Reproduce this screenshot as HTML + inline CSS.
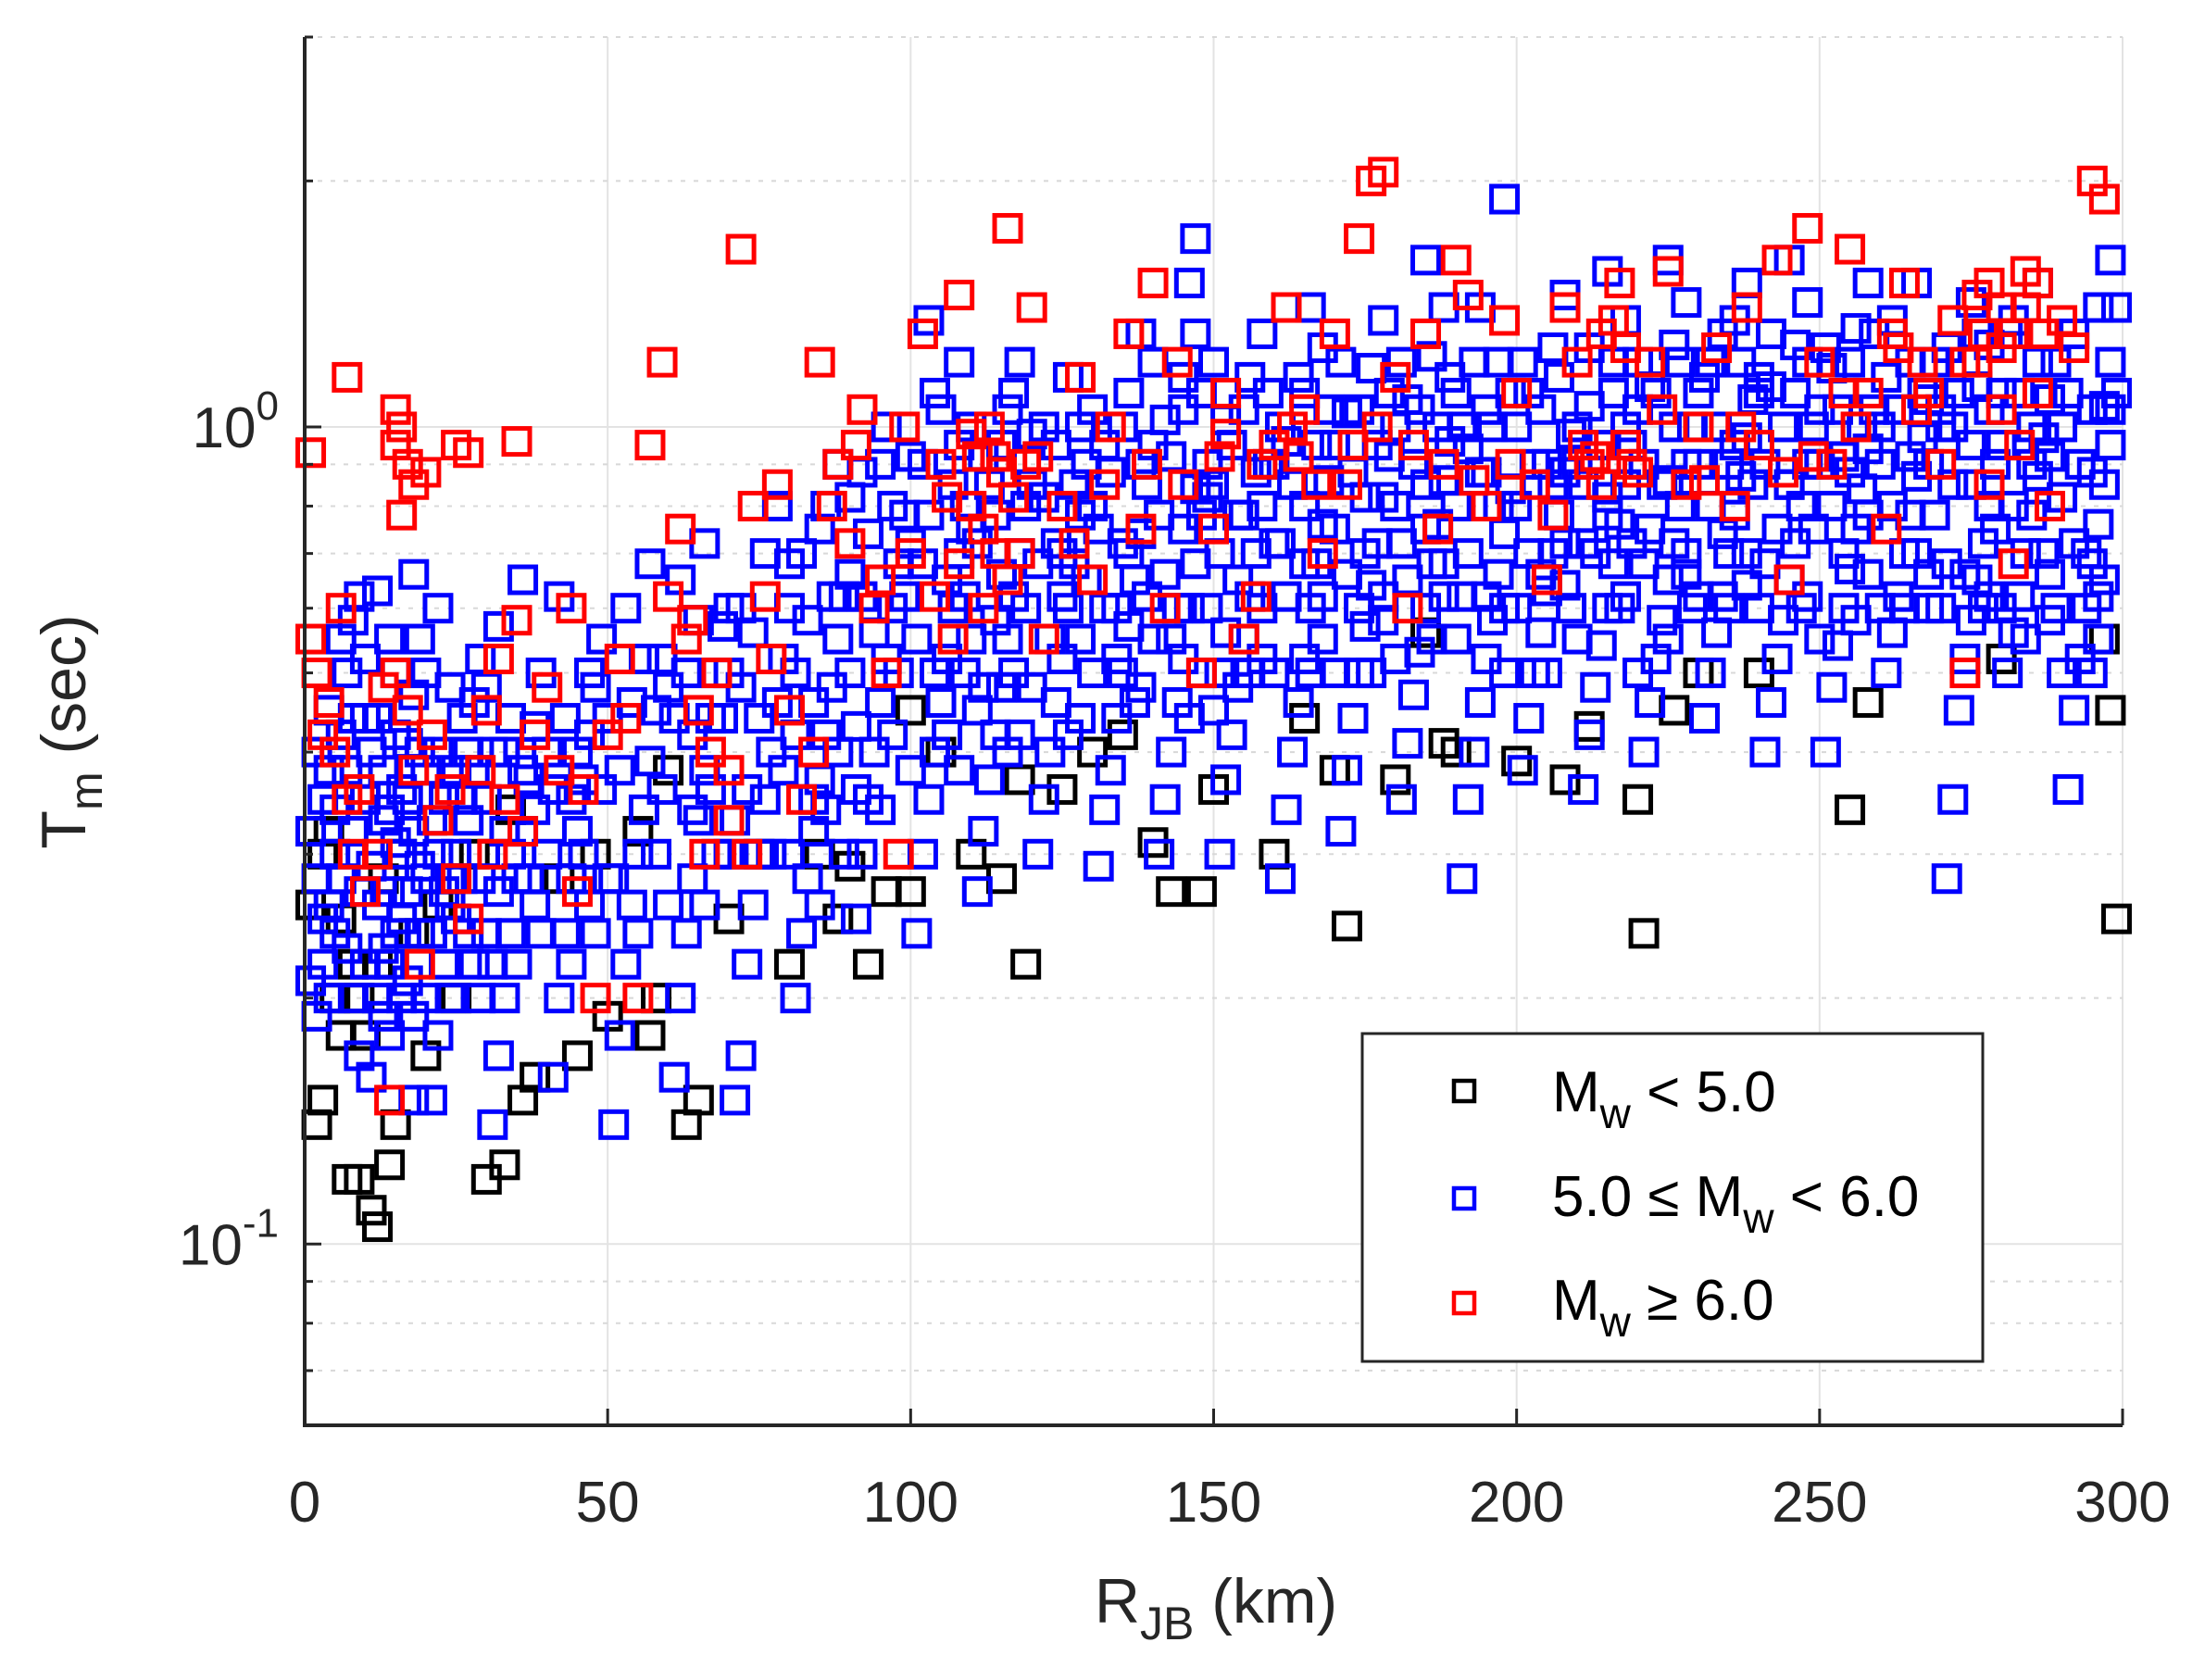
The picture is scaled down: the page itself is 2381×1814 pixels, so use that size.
<!DOCTYPE html>
<html><head><meta charset="utf-8">
<style>
html,body{margin:0;padding:0;background:#fff;}
svg{display:block;font-family:"Liberation Sans",Arial,sans-serif;}
</style></head>
<body>
<svg id="chart" width="2381" height="1814" viewBox="0 0 2381 1814" xmlns="http://www.w3.org/2000/svg">
<rect width="2381" height="1814" fill="#fff"/>
<g id="grid"></g>
<g id="marks"></g>
<g id="axes"></g>
<text x="1313" y="1752" font-size="68" text-anchor="middle" fill="#262626">R<tspan font-size="50" dy="18">JB</tspan><tspan dy="-18"> (km)</tspan></text>
<text transform="translate(92,790) rotate(-90)" font-size="68" text-anchor="middle" fill="#262626">T<tspan font-size="50" dy="18">m</tspan><tspan dy="-18"> (sec)</tspan></text>
<g>
<rect x="1471" y="1116" width="670" height="354" fill="#fff" stroke="#262626" stroke-width="3"/>
<rect x="1570" y="1167" width="22" height="22" fill="none" stroke="#000" stroke-width="4.5"/>
<rect x="1570" y="1283" width="22" height="22" fill="none" stroke="#0000ff" stroke-width="4.5"/>
<rect x="1570" y="1396" width="22" height="22" fill="none" stroke="#ff0000" stroke-width="4.5"/>
<text x="1676" y="1200" font-size="62" fill="#000">M<tspan font-size="46" dy="18">w</tspan><tspan dy="-18"> &lt; 5.0</tspan></text>
<text x="1676" y="1313" font-size="62" fill="#000">5.0 ≤ M<tspan font-size="46" dy="18">w</tspan><tspan dy="-18"> &lt; 6.0</tspan></text>
<text x="1676" y="1425" font-size="62" fill="#000">M<tspan font-size="46" dy="18">w</tspan><tspan dy="-18"> ≥ 6.0</tspan></text>
</g>
</svg>
<script>
const xTicks=[0,50,100,150,200,250,300];
const yMajor=[0.1,1];
const yMinor=[0.07,0.08,0.09,0.2,0.3,0.4,0.5,0.6,0.7,0.8,0.9,2,3];
const blackPts=[[2,0.14],[3,0.15],[5,0.2],[6,0.25],[7,0.12],[9,0.12],[11,0.11],[12,0.105],[14,0.125],[15,0.14],[10,0.18],[8,0.22],[13,0.28],[4,0.32],[16,0.3],[20,0.17],[25,0.2],[30,0.12],[33,0.125],[36,0.15],[38,0.16],[45,0.17],[50,0.19],[57,0.18],[63,0.14],[65,0.15],[70,0.25],[80,0.22],[85,0.3],[90,0.29],[93,0.22],[96,0.27],[100,0.27],[110,0.3],[115,0.28],[119,0.22],[125,0.36],[140,0.31],[143,0.27],[148,0.27],[160,0.3],[170,0.38],[172,0.245],[180,0.37],[190,0.4],[200,0.39],[208,0.37],[220,0.35],[221,0.24],[240,0.5],[255,0.34],[258,0.46],[280,0.52],[297,0.55],[298,0.45],[299,0.25],[230,0.5],[185,0.56],[100,0.45],[130,0.4],[60,0.38],[1,0.26],[3,0.3],[6,0.18],[9,0.2],[12,0.22],[18,0.24],[22,0.26],[28,0.3],[34,0.34],[42,0.28],[48,0.3],[55,0.32],[58,0.2],[75,0.3],[88,0.25],[105,0.4],[118,0.37],[135,0.42],[150,0.36],[165,0.44],[188,0.41],[212,0.43],[226,0.45]];
const bluePts=[
[2,0.19],[3,0.22],[4,0.26],[5,0.3],[3,0.35],[6,0.42],[7,0.5],[8,0.58],[9,0.62],[2,0.28],[5,0.24],[8,0.2],[9,0.17],[4,0.45],[7,0.38],
[11,0.16],[12,0.2],[13,0.23],[14,0.27],[15,0.31],[16,0.36],[17,0.41],[18,0.47],[19,0.55],[12,0.63],[18,0.66],[14,0.18],[16,0.25],[13,0.33],[11,0.4],[15,0.5],[19,0.29],[17,0.21],[18,0.15],
[21,0.15],[22,0.18],[23,0.22],[24,0.26],[25,0.3],[26,0.35],[27,0.4],[28,0.46],[29,0.52],[22,0.6],[27,0.24],[29,0.2],[21,0.33],[24,0.28],[26,0.44],
[31,0.14],[32,0.17],[33,0.2],[34,0.24],[35,0.28],[36,0.32],[37,0.37],[38,0.43],[39,0.5],[32,0.57],[36,0.65],[31,0.22],[34,0.3],[38,0.26],[33,0.4],
[41,0.16],[42,0.2],[43,0.24],[44,0.28],[45,0.32],[46,0.37],[47,0.42],[48,0.48],[49,0.55],[42,0.62],[47,0.26],[44,0.35],
[51,0.14],[52,0.18],[53,0.22],[54,0.26],[55,0.3],[56,0.34],[57,0.39],[58,0.45],[59,0.52],[53,0.6],[57,0.68],[51,0.28],
[61,0.16],[62,0.2],[63,0.24],[64,0.28],[65,0.33],[66,0.38],[67,0.44],[68,0.5],[69,0.57],[62,0.65],[66,0.72],[68,0.3],[64,0.42],
[71,0.15],[72,0.17],[73,0.22],[74,0.26],[75,0.3],[76,0.35],[77,0.4],[78,0.46],[79,0.52],[72,0.6],[76,0.7],[78,0.8],[71,0.33],
[81,0.2],[82,0.24],[83,0.28],[84,0.32],[85,0.37],[86,0.42],[87,0.48],[88,0.55],[89,0.62],[82,0.7],[86,0.8],[88,0.9],[84,0.35],[81,0.5],
[91,0.25],[92,0.3],[93,0.35],[94,0.4],[95,0.46],[96,0.52],[97,0.6],[98,0.68],[99,0.78],[92,0.88],[96,1.0],[91,0.43],[94,0.56],
[101,0.24],[102,0.3],[103,0.35],[104,0.4],[105,0.46],[106,0.52],[107,0.6],[108,0.7],[109,0.8],[102,0.9],[105,1.05],[108,1.2],[103,1.35],[106,0.65],[109,0.5],
[111,0.27],[112,0.32],[113,0.37],[114,0.42],[115,0.48],[116,0.55],[117,0.62],[118,0.7],[119,0.8],[112,0.92],[116,1.05],[118,1.2],[114,0.58],[111,0.45],
[121,0.3],[122,0.35],[123,0.4],[124,0.46],[125,0.52],[126,0.6],[127,0.68],[128,0.78],[129,0.9],[122,1.0],[126,1.15],[128,0.55],[124,0.72],
[131,0.29],[132,0.34],[133,0.38],[134,0.44],[135,0.5],[136,0.57],[137,0.65],[138,0.74],[139,0.85],[132,0.95],[136,1.1],[138,1.3],[134,0.6],
[141,0.3],[142,0.35],[143,0.4],[144,0.46],[145,0.52],[146,0.6],[147,0.68],[148,0.78],[149,0.9],[142,1.02],[145,1.15],[147,1.3],[146,1.5],[147,1.7],[143,0.55],[149,0.82],
[151,0.3],[152,0.37],[153,0.42],[154,0.48],[155,0.55],[156,0.62],[157,0.7],[158,0.8],[159,0.9],[152,1.02],[156,1.15],[158,1.3],[154,0.65],[151,0.5],
[161,0.28],[162,0.34],[163,0.4],[164,0.46],[165,0.52],[166,0.6],[167,0.68],[168,0.76],[169,0.86],[162,0.96],[165,1.1],[168,1.25],[166,1.4],[161,0.72],
[171,0.32],[172,0.38],[173,0.44],[174,0.5],[175,0.57],[176,0.64],[177,0.72],[178,0.82],[179,0.92],[172,1.04],[176,1.18],[178,1.35],[174,0.6],
[181,0.35],[182,0.41],[183,0.47],[184,0.53],[185,0.6],[186,0.68],[187,0.76],[188,0.86],[189,0.96],[182,1.08],[186,1.22],[188,1.4],[185,1.6],[181,0.72],
[191,0.28],[192,0.35],[193,0.4],[194,0.46],[195,0.52],[196,0.58],[197,0.66],[198,0.74],[199,0.84],[192,0.94],[195,1.05],[197,1.2],[194,1.4],[198,1.9],[191,0.62],
[201,0.38],[202,0.44],[203,0.5],[204,0.56],[205,0.63],[206,0.7],[207,0.78],[208,0.88],[209,0.98],[202,1.1],[206,1.25],[208,1.45],[204,0.66],
[211,0.36],[212,0.42],[213,0.48],[214,0.54],[215,0.6],[216,0.68],[217,0.76],[218,0.85],[219,0.95],[212,1.06],[216,1.2],[218,1.35],[215,1.55],[211,0.72],
[221,0.4],[222,0.46],[223,0.52],[224,0.58],[225,0.65],[226,0.72],[227,0.8],[228,0.9],[229,1.0],[222,1.12],[226,1.26],[228,1.42],[225,1.6],[221,0.68],
[231,0.44],[232,0.5],[233,0.56],[234,0.62],[235,0.7],[236,0.78],[237,0.87],[238,0.97],[239,1.08],[232,1.2],[236,1.35],[238,1.5],[234,0.74],
[241,0.4],[242,0.46],[243,0.52],[244,0.58],[245,0.65],[246,0.72],[247,0.8],[248,0.9],[249,1.0],[242,1.12],[246,1.26],[248,1.42],[245,1.6],[241,0.68],
[251,0.4],[252,0.48],[253,0.54],[254,0.6],[255,0.67],[256,0.75],[257,0.84],[258,0.94],[259,1.05],[252,1.18],[256,1.32],[258,1.5],[254,0.7],
[261,0.5],[262,0.56],[263,0.62],[264,0.7],[265,0.78],[266,0.87],[267,0.97],[268,1.08],[269,1.2],[262,1.35],[266,1.5],[268,0.66],
[271,0.28],[272,0.35],[273,0.45],[274,0.52],[275,0.58],[276,0.65],[277,0.72],[278,0.8],[279,0.9],[272,1.0],[276,1.12],[278,1.26],[275,1.42],[271,0.68],
[281,0.5],[282,0.56],[283,0.62],[284,0.7],[285,0.78],[286,0.87],[287,0.97],[288,1.08],[289,1.2],[282,1.35],[286,1.5],[288,0.66],
[291,0.36],[292,0.45],[293,0.52],[294,0.6],[295,0.68],[296,0.76],[297,0.85],[298,0.95],[297,1.06],[298,1.2],[296,1.4],[298,1.6],[292,0.72],
[5,0.34],[10,0.44],[20,0.38],[30,0.48],[40,0.4],[50,0.44],[60,0.48],[70,0.5],[80,0.6],[90,0.66],[100,0.72],[110,0.75],[120,0.85],[130,0.8],[140,0.95],[150,0.85],[160,0.9],[170,0.95],[180,1.0],[190,1.1],[200,1.0],[210,0.9],[220,1.05],[230,1.1],[240,1.15],[250,1.05],[260,1.0],[270,1.05],[280,1.1],[290,1.0],
[115,0.66],[125,0.7],[135,0.72],[145,0.75],[155,0.78],[165,0.8],[175,0.82],[185,0.85],[195,0.88],[205,0.9],[215,0.82],[225,0.86],[235,0.9],[245,0.85],[255,0.88],[265,0.92],[275,0.85],[285,0.9],[295,0.88],
[108,0.38],[118,0.42],[128,0.44],[138,0.48],[148,0.5],[158,0.52],[168,0.55],[178,0.58],[188,0.62],[198,0.6],[208,0.64],[218,0.62],[228,0.66],[238,0.64],[248,0.62],[258,0.66],[268,0.6],[278,0.62],[288,0.58],[296,0.62],
[1,0.21],[1,0.32],[2,0.4],[3,0.25],[4,0.2],[4,0.38],[6,0.28],[6,0.55],[7,0.23],[8,0.32],[8,0.44],[9,0.27],[10,0.22],[10,0.35],[10,0.52],[11,0.29],[12,0.26],[12,0.44],[13,0.19],[13,0.38],[14,0.22],[14,0.34],[14,0.55],[15,0.24],[15,0.42],[16,0.2],[16,0.3],[17,0.27],[17,0.35],[18,0.19],[18,0.32],[19,0.24],[19,0.4],[20,0.2],[20,0.28],[20,0.5],[21,0.24],[22,0.3],[22,0.4],[23,0.27],[23,0.35],[24,0.2],[24,0.48],[25,0.25],[25,0.38],[26,0.28],[27,0.33],[28,0.22],[28,0.38],[29,0.28],[30,0.24],[30,0.35],[31,0.4],[32,0.27],[33,0.32],[34,0.44],[35,0.22],[36,0.38],[37,0.28],[38,0.34],[39,0.24],[40,0.3],[41,0.36],[43,0.44],[44,0.22],[45,0.4],[46,0.3],[47,0.5],[48,0.24],[49,0.36],[50,0.28],[52,0.38],[54,0.46],[55,0.24],[56,0.52],[58,0.3],[59,0.36],[60,0.26],[61,0.44],[63,0.5],[64,0.34],[65,0.58],[66,0.26],[67,0.36],[69,0.44],[70,0.3],[70,0.6],[72,0.48],[73,0.36],[74,0.56],[75,0.44],[77,0.3],[79,0.38],[80,0.3],[80,0.68],[81,0.42],[83,0.58],[84,0.46],[85,0.26],[85,0.75],[86,0.34],[87,0.62],[88,0.4],[89,0.3],[90,0.5],[90,0.82],[91,0.36],[92,0.62],[93,0.74],[95,0.34],[95,0.9],[97,0.42],[97,0.8],[98,0.5],[99,0.62],[100,0.38],[100,0.92],[101,0.55],[102,0.68],[103,0.78],[104,0.5],[104,1.1],[106,0.42],[107,0.85],[108,0.95],[109,0.62],[110,0.55],[110,1.0],[111,0.72],[112,0.48],[113,0.85],[114,0.78],[115,0.95],[116,0.4],[117,0.5],[117,1.1],[119,0.6],[120,0.48],[120,0.98],[121,0.68],[122,0.82],[123,0.55],[124,0.95],[125,0.62],[126,0.42],[127,0.85],[128,1.0],[129,0.65],[130,0.5],[130,1.05],[131,0.75],[132,0.6],[133,0.88],[134,0.52],[135,1.0],[136,0.7],[137,0.46],[138,0.9],[139,0.62],[140,0.55],[140,1.2],[141,0.78],[142,0.66],[143,0.92],[144,0.6],[145,1.05],[146,0.44],[147,0.84],[148,1.1],[149,0.6],[150,0.45],[150,1.2],[151,0.7],[152,0.56],[153,0.95],[154,0.78],[155,1.05],[156,0.5],[157,0.88],[158,0.6],[159,1.1],[160,0.5],[160,0.72],[161,1.0],[162,0.62],[163,0.85],[164,1.15],[165,0.68],[166,0.5],[167,0.95],[168,0.62],[169,1.05],[170,0.5],[170,0.75],[171,1.2],[172,0.66],[173,0.88],[174,1.05],[175,0.7],[176,0.5],[177,0.95],[178,0.62],[179,1.1],[180,0.52],[180,0.8],[181,1.2],[182,0.65],[183,0.9],[184,1.05],[185,0.75],[186,0.55],[187,1.0],[188,0.68],[189,1.15],[190,0.55],[190,0.8],[191,1.0],[192,0.7],[193,1.2],[194,0.88],[195,0.62],[196,1.0],[197,0.8],[198,0.5],[199,1.1],[200,0.6],[200,0.8],[201,1.2],[202,0.7],[203,0.9],[204,1.05],[205,0.5],[206,0.85],[207,1.15],[208,0.72],[209,0.6],[210,0.55],[210,1.0],[211,0.85],[212,1.25],[213,0.7],[214,0.95],[215,0.78],[216,1.1],[217,0.6],[218,1.0],[219,0.72],[220,0.5],[220,1.2],[221,0.9],[222,0.75],[223,1.1],[224,0.85],[225,0.55],[226,1.0],[227,1.2],[228,0.7],[229,0.6],[230,0.62],[230,0.9],[231,1.15],[232,0.8],[233,1.0],[234,1.3],[235,0.6],[236,0.95],[237,1.2],[238,0.7],[239,0.85],[240,0.6],[240,1.1],[241,0.9],[242,1.3],[243,0.75],[244,1.0],[245,0.85],[246,1.1],[247,0.6],[248,1.2],[249,0.75],[250,0.55],[250,0.9],[251,1.25],[252,0.8],[253,1.05],[254,0.92],[255,1.2],[256,0.58],[257,1.0],[258,0.78],[259,1.3],[260,0.6],[260,0.9],[261,1.15],[262,0.8],[263,1.05],[264,0.6],[265,1.2],[266,0.7],[267,1.1],[268,0.9],[269,0.78],[270,0.6],[270,1.0],[271,1.25],[272,0.85],[273,1.1],[274,0.66],[275,0.95],[276,1.3],[277,0.6],[278,1.05],[279,0.75],[280,0.6],[280,0.95],[281,1.3],[282,0.8],[283,1.1],[284,0.55],[285,1.0],[286,1.2],[287,0.7],[288,0.92],[289,0.6],[290,0.5],[290,0.82],[291,1.1],[292,1.3],[293,0.9],[294,0.7],[295,1.05],[295,0.5],[296,0.55],[297,0.65],[298,1.05],[299,1.1],[299,1.4]
];
const redPts=[[1,0.93],[7,1.15],[15,1.05],[16,1.0],[17,0.9],[18,0.85],[15,0.95],[16,0.78],[20,0.88],[25,0.95],[27,0.93],[35,0.96],[1,0.55],[2,0.5],[4,0.46],[6,0.6],[5,0.4],[7,0.35],[8,0.3],[10,0.27],[12,0.3],[15,0.5],[17,0.45],[18,0.38],[19,0.22],[14,0.15],[22,0.33],[25,0.28],[27,0.25],[29,0.38],[30,0.45],[32,0.52],[35,0.58],[33,0.35],[36,0.32],[40,0.48],[42,0.38],[44,0.6],[45,0.27],[48,0.2],[50,0.42],[52,0.52],[55,0.2],[57,0.95],[59,1.2],[62,0.75],[63,0.55],[65,0.45],[66,0.3],[68,0.5],[70,0.38],[72,1.65],[74,0.8],[76,0.62],[78,0.85],[80,0.45],[82,0.35],[85,1.2],[88,0.9],[90,0.72],[92,1.05],[94,0.6],[96,0.5],[98,0.3],[100,0.7],[102,1.3],[105,0.9],[108,1.45],[110,0.8],[112,0.6],[113,1.0],[115,0.88],[116,1.75],[118,0.7],[120,1.4],[122,0.55],[125,0.8],[128,1.15],[130,0.65],[133,1.0],[136,1.3],[138,0.75],[140,1.5],[142,0.6],[145,0.85],[148,0.5],[150,0.75],[152,1.1],[155,0.55],[158,0.9],[162,1.4],[165,1.05],[168,0.7],[170,1.3],[172,0.85],[174,1.7],[176,2.0],[178,2.05],[180,1.15],[182,0.6],[185,1.3],[188,0.9],[190,1.6],[192,1.45],[195,0.8],[198,1.35],[200,1.1],[203,0.85],[205,0.65],[208,1.4],[211,0.95],[214,1.3],[217,1.5],[219,0.9],[222,1.2],[225,1.55],[228,0.85],[230,1.0],[233,1.25],[236,0.8],[238,1.4],[240,0.95],[243,1.6],[245,0.65],[248,1.75],[250,1.2],[252,0.9],[255,1.65],[258,1.1],[261,0.75],[264,1.5],[267,1.2],[270,0.9],[272,1.35],[274,0.5],[276,1.45],[278,0.85],[280,1.25],[282,0.68],[284,1.4],[286,1.1],[288,0.8],[290,1.35],[295,2.0],[297,1.9],
[3,0.42],[9,0.36],[13,0.48],[21,0.42],[24,0.36],[31,0.3],[38,0.42],[46,0.36],[53,0.44],[60,0.62],[64,0.58],[67,0.4],[70,0.33],[73,0.3],[77,0.52],[84,0.4],[87,0.8],[91,0.95],[95,0.65],[99,1.0],[104,0.62],[107,0.55],[111,0.92],[114,0.7],[117,0.82],[121,0.92],[127,0.72],[132,0.85],[139,0.9],[144,1.2],[151,0.92],[157,0.62],[163,1.0],[167,0.85],[173,0.95],[177,1.0],[183,0.95],[187,0.75],[193,0.86],[199,0.9],[206,0.78],[210,1.2],[213,0.92],[218,0.95],[224,1.05],[231,0.86],[237,1.0],[244,0.88],[249,0.92],[256,1.0],[263,1.25],[268,1.1],[277,1.3],[283,0.95],[287,1.3],[292,1.25],
[110,0.98],[112,0.75],[114,0.92],[116,0.65],[108,0.68],[106,0.82],[119,0.9],[212,0.9],[214,0.85],[216,1.35],[218,1.25],[220,0.88],[276,1.2],[278,1.5],[280,1.4],[282,1.3],[284,1.55],[286,1.5],[280,1.05],[274,1.2],[262,1.3],[266,1.05],[254,1.1],[152,0.98],[160,0.95],[164,0.92]];
const X0=329,X1=2292,XMIN=0,XMAX=300,Y0=1539,Y1=40,YMIN=0.06,YMAX=3;
const NS='http://www.w3.org/2000/svg';
function xs(v){return X0+(v-XMIN)/(XMAX-XMIN)*(X1-X0);}
function ys(v){return Y0-(Math.log10(v)-Math.log10(YMIN))/(Math.log10(YMAX)-Math.log10(YMIN))*(Y0-Y1);}
function mk(t,a,p){const e=document.createElementNS(NS,t);for(const k in a)e.setAttribute(k,a[k]);p.appendChild(e);return e;}
const grid=document.getElementById('grid'),axes=document.getElementById('axes'),marks=document.getElementById('marks');
xTicks.forEach(t=>{
 const l=mk('line',{x1:xs(t),x2:xs(t),y1:Y1,y2:Y0,stroke:'#e3e3e3','stroke-width':2},grid);
 
 
 const k=mk('line',{x1:xs(t),x2:xs(t),y1:Y0,y2:Y0-18,stroke:'#262626','stroke-width':3},axes);
 
 
 const tx=mk('text',{x:xs(t),y:1643,'font-size':62,'text-anchor':'middle',fill:'#262626'},axes);
 
 
 tx.textContent=t;
});
yMinor.forEach(t=>{
 const l=mk('line',{x1:X0,x2:X1,y1:ys(t),y2:ys(t),stroke:'#d8d8d8','stroke-width':2,'stroke-dasharray':'5 9'},grid);
 
 
 const k=mk('line',{x1:X0,x2:X0+9,y1:ys(t),y2:ys(t),stroke:'#262626','stroke-width':3},axes);
 
 
});
yMajor.forEach(t=>{
 const l=mk('line',{x1:X0,x2:X1,y1:ys(t),y2:ys(t),stroke:'#e3e3e3','stroke-width':2},grid);
 
 
 const k=mk('line',{x1:X0,x2:X0+18,y1:ys(t),y2:ys(t),stroke:'#262626','stroke-width':3},axes);
 
 
 const tx=mk('text',{x:X0-28,y:ys(t)+22,'font-size':62,'text-anchor':'end',fill:'#262626'},axes);
 
 
 const e=Math.round(Math.log10(t));
 tx.innerHTML='10<tspan font-size="44" dy="-30">'+e+'</tspan>';
});
const ax=mk('path',{d:'M'+X0+' '+Y1+' L'+X0+' '+Y0+' L'+X1+' '+Y0,fill:'none',stroke:'#262626','stroke-width':4},axes);


const S=28;
function drawSeries(pts,col,name){
 const g=mk('g',{},marks);
 
 
 pts.forEach(p=>{
  const r=mk('rect',{x:xs(p[0])-S/2,y:ys(p[1])-S/2,width:S,height:S,fill:'none',stroke:col,'stroke-width':5},g);
  
  
 });
}
drawSeries(blackPts,'#000','series-mw-lt-5');
drawSeries(bluePts,'#0000ff','series-mw-5-6');
drawSeries(redPts,'#ff0000','series-mw-ge-6');
</script>
</body></html>
